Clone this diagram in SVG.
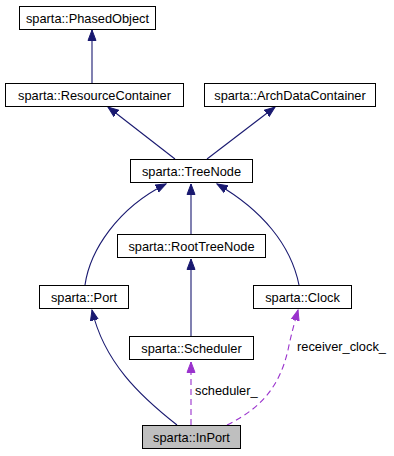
<svg xmlns="http://www.w3.org/2000/svg" width="394" height="456" viewBox="0 0 394 456">
  <style>
    .node rect { fill: #ffffff; stroke: #000000; stroke-width: 1; }
    .node.current rect { fill: #bfbfbf; }
    .node text { font-family: "Liberation Sans", Arial, sans-serif; font-size: 12.8px; fill: #000000; text-anchor: middle; }
    .inherit { fill: none; stroke: #191970; stroke-width: 1.1; }
    .usage { fill: none; stroke: #9a32cd; stroke-width: 1.1; stroke-dasharray: 6,4; }
    .label { font-family: "Liberation Sans", Arial, sans-serif; font-size: 12.8px; fill: #000000; }
  </style>
  <defs>
    <marker id="arrowInherit" markerUnits="userSpaceOnUse" markerWidth="12" markerHeight="10" refX="10.5" refY="5" orient="auto">
      <path d="M0,1 L10.5,5 L0,9 z" fill="#191970" stroke="#191970" stroke-width="1"/>
    </marker>
    <marker id="arrowUsage" markerUnits="userSpaceOnUse" markerWidth="12" markerHeight="10" refX="10.5" refY="5" orient="auto">
      <path d="M0,1 L10.5,5 L0,9 z" fill="#9a32cd" stroke="#9a32cd" stroke-width="1"/>
    </marker>
  </defs>

  <!-- connectors -->
  <g id="edges">
    <path class="inherit" d="M92,83 V30" marker-end="url(#arrowInherit)"/>
    <path class="inherit" d="M175,159 L108,107" marker-end="url(#arrowInherit)"/>
    <path class="inherit" d="M207,159 L275,107" marker-end="url(#arrowInherit)"/>
    <path class="inherit" d="M191,234 V184" marker-end="url(#arrowInherit)"/>
    <path class="inherit" d="M85,285 C90,250 118,208 166,184" marker-end="url(#arrowInherit)"/>
    <path class="inherit" d="M299,285 C291,245 262,210 217,184" marker-end="url(#arrowInherit)"/>
    <path class="inherit" d="M191,336 V259" marker-end="url(#arrowInherit)"/>
    <path class="inherit" d="M177,425 C140,396 104,362 92,310" marker-end="url(#arrowInherit)"/>
    <path class="usage" d="M191,425 V362" marker-end="url(#arrowUsage)"/>
    <path class="usage" d="M227,425 C262,408 280,385 288,350 C291,335 295,321 298,310" marker-end="url(#arrowUsage)"/>
    <text class="label" x="195" y="395">scheduler_</text>
    <text class="label" x="297" y="351">receiver_clock_</text>
  </g>

  <!-- nodes -->
  <g id="PhasedObject" class="node">
    <rect x="19.5" y="6.5" width="136" height="23"/>
    <text x="87.5" y="22.5">sparta::PhasedObject</text>
  </g>
  <g id="ResourceContainer" class="node">
    <rect x="5.5" y="83.5" width="178" height="23"/>
    <text x="94.5" y="99.5">sparta::ResourceContainer</text>
  </g>
  <g id="ArchDataContainer" class="node">
    <rect x="204.5" y="83.5" width="171" height="23"/>
    <text x="290" y="99.5">sparta::ArchDataContainer</text>
  </g>
  <g id="TreeNode" class="node">
    <rect x="130.5" y="159.5" width="122" height="23"/>
    <text x="191.5" y="175.5">sparta::TreeNode</text>
  </g>
  <g id="RootTreeNode" class="node">
    <rect x="117.5" y="234.5" width="148" height="23"/>
    <text x="191.5" y="250.5">sparta::RootTreeNode</text>
  </g>
  <g id="Port" class="node">
    <rect x="39.5" y="285.5" width="89" height="23"/>
    <text x="84" y="301.5">sparta::Port</text>
  </g>
  <g id="Clock" class="node">
    <rect x="253.5" y="285.5" width="98" height="23"/>
    <text x="302.5" y="301.5">sparta::Clock</text>
  </g>
  <g id="Scheduler" class="node">
    <rect x="129.5" y="336.5" width="124" height="23"/>
    <text x="191.5" y="352.5">sparta::Scheduler</text>
  </g>
  <g id="InPort" class="node current">
    <rect x="142.5" y="425.5" width="98" height="23"/>
    <text x="191.5" y="441.5">sparta::InPort</text>
  </g>
</svg>
